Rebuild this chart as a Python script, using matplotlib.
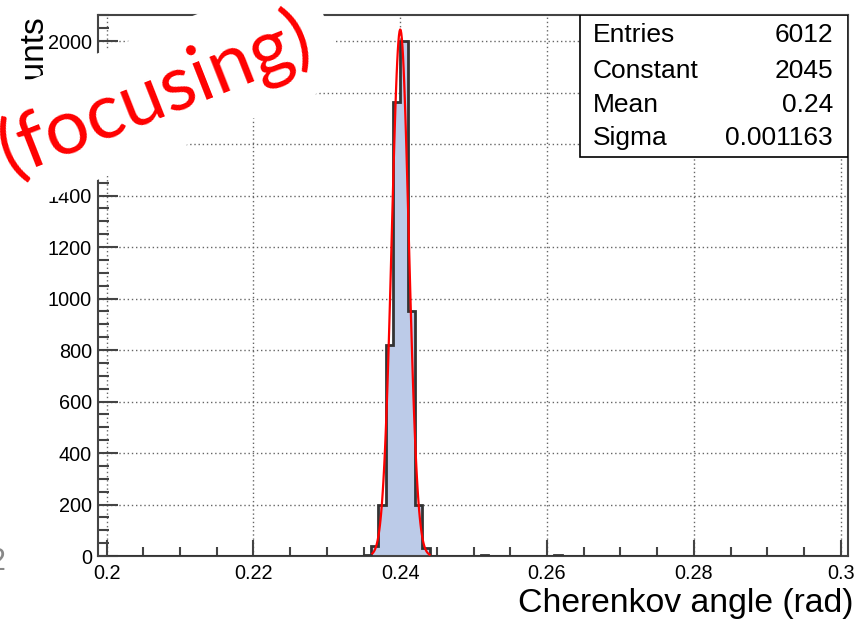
import numpy as np
import matplotlib
matplotlib.use("Agg")
import matplotlib.pyplot as plt
from matplotlib.patches import Rectangle
from matplotlib.ticker import MultipleLocator, FormatStrFormatter

# histogram content (non-empty bins, 0.001 rad wide)
bin_low = [0.235, 0.236, 0.237, 0.238, 0.239, 0.240, 0.241, 0.242, 0.243, 0.251, 0.261]
bin_counts = [3, 39, 200, 820, 1762, 2000, 950, 200, 30, 4, 4]

# gaussian fit shown in the stats box
fit_const = 2045
fit_mean = 0.24
fit_sigma = 0.001163
fit_lo, fit_hi = 0.2362, 0.2440

stat_names = ["Entries", "Constant", "Mean", "Sigma"]
stat_values = ["6012", "2045", "0.24", "0.001163"]

plt.rcParams['font.family'] = ['Liberation Sans', 'DejaVu Sans']

edges = np.round(np.linspace(0.2, 0.3, 101), 4)
values = np.zeros(100)
for lo, c in zip(bin_low, bin_counts):
    values[int(round((lo - 0.2) / 0.001))] = c

fig = plt.figure(figsize=(8.61, 6.19), dpi=100)
ax = fig.add_axes([98/861, 63/619, 750/861, 541/619])

ax.stairs(values, edges, fill=True, color='#bccbe8', zorder=2)
ax.stairs(values, edges, color='#333333', lw=2.0, zorder=3)

xf = np.linspace(fit_lo, fit_hi, 100)
yf = fit_const * np.exp(-0.5 * ((xf - fit_mean) / fit_sigma) ** 2)
ax.plot(xf, yf, color='red', lw=1.6, zorder=4)

ax.set_xlim(0.19882, 0.301)
ax.set_ylim(0, 2101)

ax.xaxis.set_major_locator(MultipleLocator(0.02))
ax.xaxis.set_minor_locator(MultipleLocator(0.005))
ax.xaxis.set_major_formatter(FormatStrFormatter('%g'))
ax.yaxis.set_major_locator(MultipleLocator(200))
ax.yaxis.set_minor_locator(MultipleLocator(50))

ax.grid(True, which='major', linestyle=(0, (1, 2)), color='#666666', lw=1.0)
ax.set_axisbelow(True)

for s in ax.spines.values():
    s.set_color('#444444')
    s.set_linewidth(1.5)

ax.tick_params(axis='both', which='both', direction='in', color='#444444', width=1.5,
               top=False, right=False)
ax.tick_params(axis='x', which='major', length=11.5, labelsize=14.3, pad=6)
ax.tick_params(axis='x', which='minor', length=6.5)
ax.tick_params(axis='y', which='major', length=14.4, labelsize=14.3, pad=4.5)
ax.tick_params(axis='y', which='minor', length=8)

# stats box
ax.add_patch(Rectangle((0.642, 0.7375), 0.358, 0.2625, transform=ax.transAxes,
                       facecolor='white', edgecolor='black', lw=1.2, zorder=6))
row_y = [0.963, 0.8965, 0.8336, 0.7726]
for name, val, yy in zip(stat_names, stat_values, row_y):
    ax.text(0.66, yy, name, transform=ax.transAxes, fontsize=19,
            ha='left', va='center', zorder=7)
    ax.text(0.98, yy, val, transform=ax.transAxes, fontsize=19,
            ha='right', va='center', zorder=7)

fig.text(853/861, 7/619, 'Cherenkov angle (rad)', fontsize=24.3,
         ha='right', va='baseline')
fig.text(34/861, 604/619, 'Counts', fontsize=24, rotation=90,
         ha='center', va='top', zorder=2)

# slide overlay
fig.text(-11/861, 49/619, '2', color='#888888', fontsize=22, ha='left', va='baseline')
fig.text(155/861, (619 - 94)/619, '(focusing)', color='red', fontsize=56,
         family=['Lato', 'DejaVu Sans'], rotation=21.5, rotation_mode='anchor',
         ha='center', va='center', zorder=10,
         bbox=dict(boxstyle='square,pad=0.27', fc='white', ec='none'))

fig.savefig('out.png', dpi=100)
